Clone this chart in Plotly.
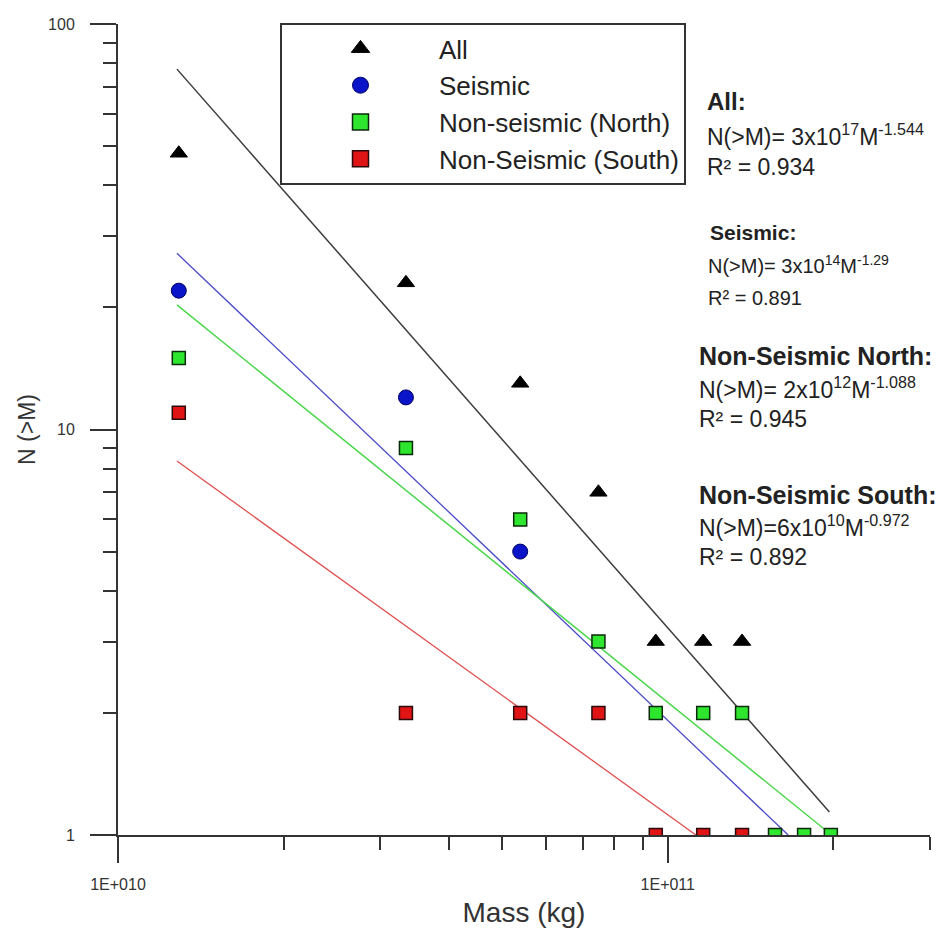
import plotly.graph_objects as go

# ---------------- data ----------------
all_x = [1.29e10, 3.34e10, 5.39e10, 7.48e10, 9.51e10, 1.16e11, 1.365e11]
all_y = [48, 23, 13, 7, 3, 3, 3]

seis_x = [1.29e10, 3.34e10, 5.39e10]
seis_y = [22, 12, 5]

north_x = [1.29e10, 3.34e10, 5.39e10, 7.48e10, 9.51e10, 1.16e11, 1.365e11, 1.567e11, 1.77e11, 1.98e11]
north_y = [15, 9, 6, 3, 2, 2, 2, 1, 1, 1]

south_x = [1.29e10, 3.34e10, 5.39e10, 7.48e10, 9.51e10, 1.16e11, 1.365e11]
south_y = [11, 2, 2, 2, 1, 1, 1]

# fitted power-law lines (end points)
fit_all_x = [1.28e10, 1.968e11]
fit_all_y = [77.4, 1.14]
fit_seis_x = [1.28e10, 1.656e11]
fit_seis_y = [27.2, 1.0]
fit_north_x = [1.28e10, 1.968e11]
fit_north_y = [20.3, 1.01]
fit_south_x = [1.28e10, 1.125e11]
fit_south_y = [8.36, 1.0]

names = ["All", "Seismic", "Non-seismic (North)", "Non-Seismic (South)"]

x_tickvals = [1e10, 1e11]
x_ticktext = ["1E+010", "1E+011"]
x_minor = [2e10, 3e10, 4e10, 5e10, 6e10, 7e10, 8e10, 9e10, 2e11, 3e11]
y_tickvals = [1, 10, 100]
y_ticktext = ["1", "10", "100"]
y_minor = [2, 3, 4, 5, 6, 7, 8, 9, 20, 30, 40, 50, 60, 70, 80, 90]

FONT = "Liberation Sans, Arial, sans-serif"

styles = [
    dict(symbol="triangle-up", color="black", line=dict(color="black", width=1)),
    dict(symbol="circle", color="#0a14c8", line=dict(color="#000060", width=1)),
    dict(symbol="square", color="#2ee62e", line=dict(color="#0a2a0a", width=1.5)),
    dict(symbol="square", color="#e01414", line=dict(color="#2a0a0a", width=1.5)),
]
sizes = [15, 15, 13, 13]

fig = go.Figure()

# fit lines
for fx, fy, col, w in [
    (fit_all_x, fit_all_y, "#3c3c3c", 1.5),
    (fit_seis_x, fit_seis_y, "#4a4ac8", 1.3),
    (fit_north_x, fit_north_y, "#4cd64c", 1.5),
    (fit_south_x, fit_south_y, "#e05050", 1.3),
]:
    fig.add_trace(go.Scatter(x=fx, y=fy, mode="lines", line=dict(color=col, width=w),
                             showlegend=False, hoverinfo="skip"))

# data markers
for xs, ys, st, sz in zip([all_x, seis_x, north_x, south_x], [all_y, seis_y, north_y, south_y],
                          styles, sizes):
    fig.add_trace(go.Scatter(x=xs, y=ys, mode="markers", showlegend=False,
                             marker=dict(size=sz, **st)))

# legend entries (larger symbols, as in the reference legend)
for nm, st in zip(names, styles):
    fig.add_trace(go.Scatter(x=[None], y=[None], mode="markers", name=nm,
                             marker=dict(size=16, **st)))

L, R, T, B = 118, 930, 24, 835
W, H = 951, 931


def px(x):
    return (x - L) / (R - L)


def py(y):
    return (B - y) / (B - T)


def eq(coef, exp, slope, sep=" "):
    return "N(>M)=%s%sx10<sup>%s</sup>M<sup>%s</sup>" % (sep, coef, exp, slope)


ann = [
    ("<b>All:</b>", 705, 102, 24),
    (eq("3", "17", "-1.544"), 705, 135, 23),
    ("R² = 0.934", 705, 167, 23),
    ("<b>Seismic:</b>", 708, 232, 21),
    (eq("3", "14", "-1.29"), 706, 264, 20),
    ("R² = 0.891", 706, 298, 20),
    ("<b>Non-Seismic North:</b>", 697, 356, 25),
    (eq("2", "12", "-1.088"), 697, 388, 23),
    ("R² = 0.945", 697, 419, 23),
    ("<b>Non-Seismic South:</b>", 697, 495, 25),
    (eq("6", "10", "-0.972", sep=""), 697, 526, 23),
    ("R² = 0.892", 697, 557, 23),
]
for txt, x, y, s in ann:
    fig.add_annotation(text=txt, x=px(x), y=py(y), xref="paper", yref="paper",
                       xanchor="left", yanchor="middle", showarrow=False,
                       font=dict(family=FONT, size=s, color="#222"))

axis_common = dict(
    type="log", showline=True, linecolor="#333", linewidth=2, showgrid=False, zeroline=False,
    ticks="outside", ticklen=26, tickwidth=1.5, tickcolor="#333",
    tickfont=dict(family=FONT, size=16, color="#333"),
)

fig.update_xaxes(**axis_common, range=[10, 11.477], tickmode="array",
                 tickvals=x_tickvals, ticktext=x_ticktext, ticklabelstandoff=8,
                 minor=dict(tickmode="array", tickvals=x_minor, ticks="outside", ticklen=13,
                            tickwidth=1.5, tickcolor="#333"),
                 title=dict(text="Mass (kg)", font=dict(family=FONT, size=28, color="#333"),
                            standoff=10))
fig.update_yaxes(**axis_common, range=[0, 2], tickmode="array",
                 tickvals=y_tickvals, ticktext=y_ticktext, ticklabelstandoff=12,
                 minor=dict(tickmode="array", tickvals=y_minor, ticks="outside", ticklen=13,
                            tickwidth=1.5, tickcolor="#333"),
                 title=dict(text="N (>M)", font=dict(family=FONT, size=23, color="#333"),
                            standoff=6))

fig.update_layout(
    width=W, height=H,
    margin=dict(l=L, r=W - R, t=T, b=H - B, autoexpand=False),
    paper_bgcolor="white", plot_bgcolor="white",
    showlegend=True,
    legend=dict(x=px(280), y=py(23), xanchor="left", yanchor="top",
                bgcolor="white", bordercolor="#333", borderwidth=2,
                font=dict(family=FONT, size=26, color="#222"),
                itemwidth=147, traceorder="normal"),
)

fig.write_html("out.html")
